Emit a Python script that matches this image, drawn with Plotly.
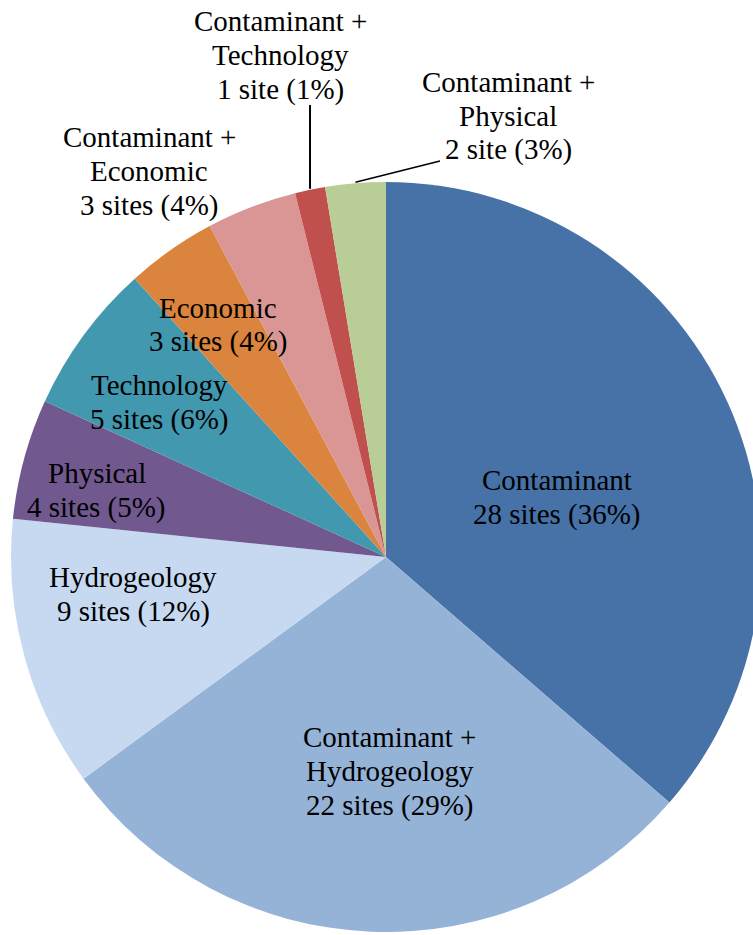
import math
import plotly.graph_objects as go

# Site counts by limiting factor, listed clockwise from 12 o'clock
categories = [
    "Contaminant",
    "Contaminant + Hydrogeology",
    "Hydrogeology",
    "Physical",
    "Technology",
    "Economic",
    "Contaminant + Economic",
    "Contaminant + Technology",
    "Contaminant + Physical",
]
sites = [28, 22, 9, 4, 5, 3, 3, 1, 2]
site_words = ["sites", "sites", "sites", "sites", "sites", "sites", "sites", "site", "site"]
colors = [
    "#4672A8", "#95B3D7", "#C6D9F1", "#71588F", "#4198AF",
    "#DB843D", "#D99694", "#C0504D", "#B9CD96",
]

# Page geometry (pixels)
W, H = 770, 935
CX, CY, R = 386, 557, 375
FONT = dict(family="Liberation Serif", size=29, color="#000000")
PITCH = 34

# Label placement: centre x and centre y of the first text line
label_pos = [
    (557, 480), (390, 737), (133, 577), (97, 473), (159, 385),
    (218, 308), (149, 137), (280, 21), (508, 82),
]
# Leader-line end points (label side) for the small outside slices
leader_end = {7: (None, 105), 8: (440, 161)}


def px(x):
    return x / W


def py(y):
    return 1 - y / H


total = sum(sites)

fig = go.Figure(
    go.Pie(
        labels=categories,
        values=sites,
        sort=False,
        direction="clockwise",
        rotation=0,
        marker=dict(colors=colors, line=dict(width=0)),
        textinfo="none",
        hoverinfo="label+value+percent",
        domain=dict(x=[px(CX - R), px(CX + R)], y=[py(CY + R), py(CY - R)]),
        showlegend=False,
    )
)

annotations = []
for i, (name, n, word) in enumerate(zip(categories, sites, site_words)):
    if " + " in name:
        first, second = name.split(" + ")
        lines = [first + " +", second]
    else:
        lines = [name]
    lines.append(f"{n} {word} ({round(100 * n / total)}%)")
    x0, y0 = label_pos[i]
    for k, line in enumerate(lines):
        annotations.append(
            dict(
                x=px(x0), y=py(y0 + k * PITCH), xref="paper", yref="paper",
                text=line, showarrow=False, xanchor="center", yanchor="middle",
                font=FONT,
            )
        )

# Leader lines start at the outer edge, mid-angle of each slice
shapes = []
cum = 0
for i, n in enumerate(sites):
    mid = (cum + n / 2) / total * 2 * math.pi
    cum += n
    if i not in leader_end:
        continue
    ax = CX + R * math.sin(mid)
    ay = CY - R * math.cos(mid)
    ex, ey = leader_end[i]
    if ex is None:
        ex = ax
    shapes.append(
        dict(
            type="line", xref="paper", yref="paper",
            x0=px(ax), y0=py(ay - 1), x1=px(ex), y1=py(ey),
            line=dict(color="#000000", width=2 if i == 7 else 1.5),
        )
    )

fig.update_layout(
    width=W,
    height=H,
    margin=dict(l=0, r=0, t=0, b=0),
    paper_bgcolor="white",
    plot_bgcolor="white",
    font=FONT,
    annotations=annotations,
    shapes=shapes,
)

fig.write_html(
    "out.html",
    post_script="document.body.style.overflow='hidden';document.body.style.margin='0';",
)
